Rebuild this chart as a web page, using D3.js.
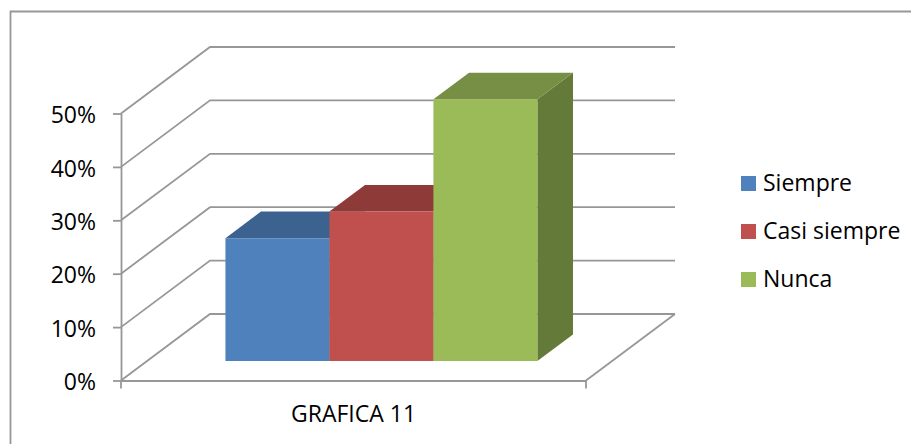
<!DOCTYPE html>
<html>
<head>
<meta charset="utf-8">
<script src="https://cdn.jsdelivr.net/npm/d3@7"></script>
<style>
  html, body { margin: 0; padding: 0; background: #fff; }
  svg { display: block; }
  text { font-family: "Open Sans", sans-serif; fill: #000; }
</style>
</head>
<body>
<svg id="chart" width="911" height="444"></svg>
<script>
// the data
const category = "GRAFICA 11";
const seriesNames = ["Siempre", "Casi siempre", "Nunca"];
const seriesValues = [23, 28, 49];
const tickValues = [0, 10, 20, 30, 40, 50];
const frontColors = ["#4f81bd", "#c0504d", "#9bbb59"];
const topColors = ["#3c6290", "#8e3a38", "#778f45"];
const sideColors = ["#3a5f8c", "#8a3836", "#647a39"];

// layout of the fake 3d box
const axisLeft = 121, axisRight = 586;
const axisBottom = 380.5, axisTop = 113.5;
const wallDx = 89, wallDy = -66.5;     // offset of the back wall from the front plane
const barNear = 0.293, barFar = 0.693; // where the bars start and stop in depth (0 front, 1 back)
const gridColor = "#979797";
const lineWidth = 1.8;
const fontSize = 23;

const svg = d3.select("#chart");

const y = d3.scaleLinear().domain([0, 50]).range([axisBottom, axisTop]);
const x0 = d3.scaleBand().domain([category]).range([axisLeft, axisRight]);
const x1 = d3.scaleBand().domain(seriesNames).range(x0.range())
  .paddingInner(0).paddingOuter(0.736).align(0.512);

// project a point (x on the front plane, value, depth) to the screen
const project = (px, v, t) => [px + t * wallDx, y(v) + t * wallDy];
const poly = pts => d3.line()(pts) + "Z";

// chart frame (only left and top edges are in the picture)
svg.append("path")
  .attr("d", "M10.5,444V11.5H911")
  .attr("fill", "none")
  .attr("stroke", gridColor)
  .attr("stroke-width", lineWidth);

// gridlines: front edge -> back wall -> along the wall
const gGrid = svg.append("g")
  .attr("fill", "none")
  .attr("stroke", gridColor)
  .attr("stroke-width", lineWidth);

gGrid.selectAll("path")
  .data(tickValues)
  .join("path")
  .attr("d", d => d3.line()([
    project(axisLeft, d, 0),
    project(axisLeft, d, 1),
    project(axisRight, d, 1)
  ]));

// right edge of the floor
gGrid.append("path")
  .attr("d", d3.line()([project(axisRight, 0, 1), project(axisRight, 0, 0)]));

// the bars
const gBars = svg.append("g");
seriesNames.forEach((name, i) => {
  const left = x1(name), right = left + x1.bandwidth(), v = seriesValues[i];
  const g = gBars.append("g");

  g.append("path")   // side
    .attr("fill", sideColors[i])
    .attr("d", poly([project(right, 0, barNear), project(right, 0, barFar),
                     project(right, v, barFar), project(right, v, barNear)]));
  g.append("path")   // top
    .attr("fill", topColors[i])
    .attr("d", poly([project(left, v, barNear), project(left, v, barFar),
                     project(right, v, barFar), project(right, v, barNear)]));
  g.append("path")   // front
    .attr("fill", frontColors[i])
    .attr("d", poly([project(left, 0, barNear), project(right, 0, barNear),
                     project(right, v, barNear), project(left, v, barNear)]));
});

// y axis
const gY = svg.append("g")
  .attr("transform", `translate(${axisLeft},0)`)
  .call(d3.axisLeft(y).tickValues(tickValues).tickFormat(d => d + "%").tickSize(8).tickSizeOuter(0).tickPadding(17));
gY.selectAll("path, line").attr("stroke", gridColor).attr("stroke-width", lineWidth);
gY.selectAll("text").attr("font-size", fontSize).attr("dy", "0.4em").attr("font-family", "Open Sans").attr("fill", "#000");

// x axis
const gX = svg.append("g")
  .attr("transform", `translate(0,${axisBottom})`)
  .call(d3.axisBottom(x0).tickSize(0).tickPadding(25));
gX.select(".domain").attr("stroke", gridColor).attr("stroke-width", lineWidth);
gX.selectAll("text").attr("font-size", fontSize).attr("font-family", "Open Sans").attr("fill", "#000");

// tick marks sit at both ends of the category
gX.selectAll(".end-tick")
  .data(x0.range())
  .join("line")
  .attr("class", "end-tick")
  .attr("x1", d => d).attr("x2", d => d)
  .attr("y1", 0).attr("y2", 8)
  .attr("stroke", gridColor).attr("stroke-width", lineWidth);

// legend
const legendY = d3.scalePoint().domain(seriesNames).range([183.5, 279.5]);
const legend = svg.append("g").selectAll("g")
  .data(seriesNames)
  .join("g")
  .attr("transform", d => `translate(741,${legendY(d)})`);

legend.append("rect")
  .attr("y", -7.5).attr("width", 15).attr("height", 15)
  .attr("fill", (d, i) => frontColors[i]);

legend.append("text")
  .attr("x", 22).attr("y", 7.5)
  .attr("font-size", fontSize)
  .text(d => d);
</script>
</body>
</html>
